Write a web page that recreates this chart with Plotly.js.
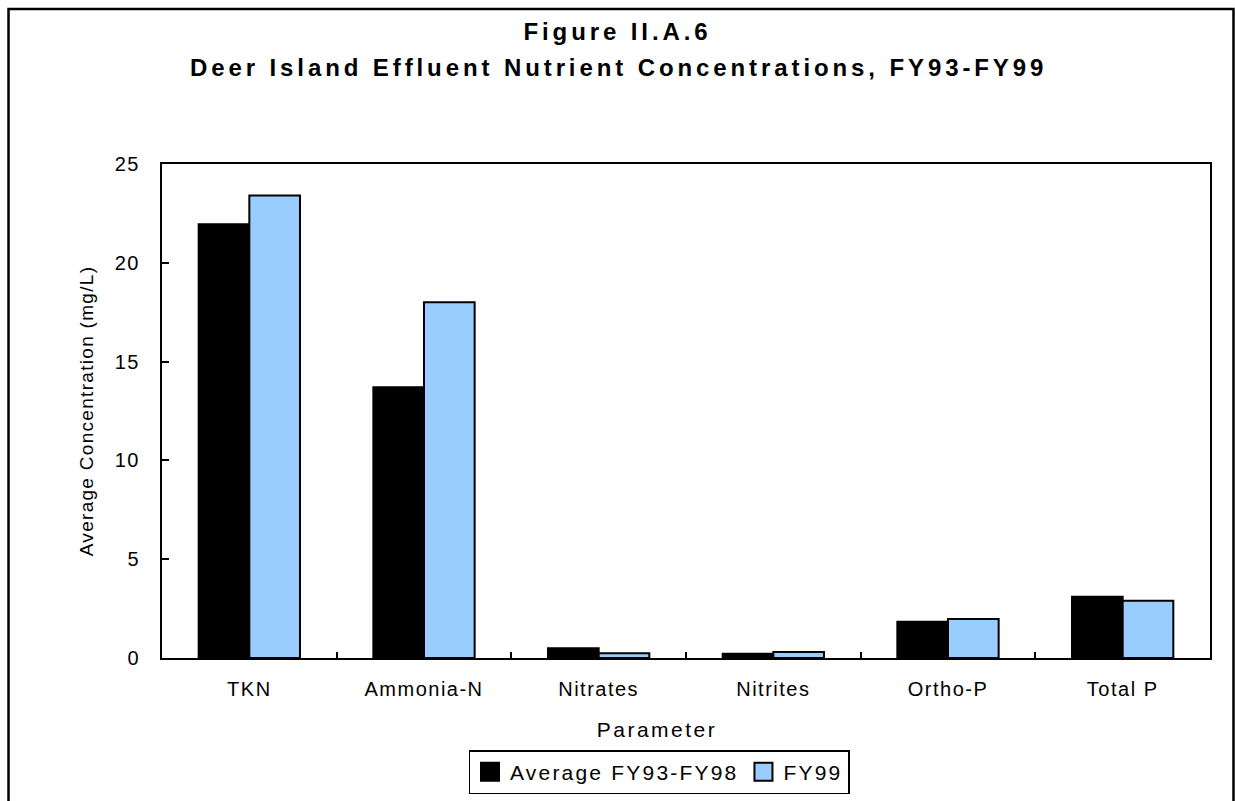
<!DOCTYPE html>
<html>
<head>
<meta charset="utf-8">
<script src="https://cdn.plot.ly/plotly-3.0.1.min.js"></script>
<style>
  html, body { margin: 0; padding: 0; background: #fff; }
  #chart { width: 1235px; height: 801px; }
  .gtitle { letter-spacing: 3.9px; }
  .annotation-text { letter-spacing: 3.9px; }
  .xtick text, .ytick text { letter-spacing: 1.5px; }
  .xtitle { letter-spacing: 2.5px; translate: -29px 0; }
  .ytitle { letter-spacing: 1.3px; }
  .legendtext { letter-spacing: 2.2px; }
</style>
</head>
<body>
<div id="chart"></div>
<script>
const categories = ['TKN', 'Ammonia-N', 'Nitrates', 'Nitrites', 'Ortho-P', 'Total P'];
const avgFY93_98 = [21.95, 13.7, 0.49, 0.22, 1.84, 3.1];
const fy99 = [23.4, 18.0, 0.24, 0.3, 1.97, 2.9];
const seriesNames = ['Average FY93-FY98', 'FY99'];
const yTicks = [0, 5, 10, 15, 20, 25];
const titleLine1 = 'Figure II.A.6';
const titleLine2 = 'Deer Island Effluent Nutrient Concentrations, FY93-FY99';

const FONT = 'Liberation Sans, Arial, sans-serif';
const W = 1235, H = 801;
const M = { l: 162, r: 25, t: 164, b: 143 };
const PW = W - M.l - M.r, PH = H - M.t - M.b;
const px2x = (px) => (px - M.l) / PW;
const px2y = (py) => (H - M.b - py) / PH;

const traces = [
  {
    type: 'bar', name: seriesNames[0], x: categories, y: avgFY93_98,
    marker: { color: '#000000', line: { color: '#000000', width: 2 } },
    hoverinfo: 'x+y'
  },
  {
    type: 'bar', name: seriesNames[1], x: categories, y: fy99,
    marker: { color: '#99CCFF', line: { color: '#000000', width: 2 } },
    hoverinfo: 'x+y'
  }
];

const layout = {
  width: W, height: H,
  paper_bgcolor: '#ffffff', plot_bgcolor: '#ffffff',
  font: { family: FONT, color: '#000000', size: 20 },
  margin: { l: M.l, r: M.r, t: M.t, b: M.b, pad: 0, autoexpand: false },
  barmode: 'group', bargap: 0.42, bargroupgap: 0,
  showlegend: true,
  title: {
    text: '<b>' + titleLine1 + '</b>',
    font: { family: FONT, size: 24, color: '#000000' },
    x: 0.5, xref: 'container', xanchor: 'center',
    y: 1 - 32 / H, yref: 'container', yanchor: 'middle'
  },
  annotations: [
    {
      text: '<b>' + titleLine2 + '</b>',
      xref: 'paper', yref: 'paper', x: px2x(618.5), y: px2y(68),
      xanchor: 'center', yanchor: 'middle', showarrow: false,
      font: { family: FONT, size: 24, color: '#000000' }
    }
  ],
  xaxis: {
    type: 'category',
    showline: true, linecolor: '#000000', linewidth: 2, mirror: true,
    ticks: 'inside', tickson: 'boundaries', ticklen: 6, tickwidth: 2, tickcolor: '#000000',
    tickfont: { family: FONT, size: 20, color: '#000000' },
    ticklabelstandoff: 12,
    showgrid: false, zeroline: false, fixedrange: true,
    title: { text: 'Parameter', font: { family: FONT, size: 21, color: '#000000' }, standoff: 23 }
  },
  yaxis: {
    range: [0, 25], tickvals: yTicks, ticktext: yTicks.map(String),
    showline: true, linecolor: '#000000', linewidth: 2, mirror: true,
    ticks: 'inside', ticklen: 7, tickwidth: 2, tickcolor: '#000000',
    tickfont: { family: FONT, size: 20, color: '#000000' },
    ticklabelstandoff: 16,
    showgrid: false, zeroline: false, fixedrange: true,
    title: { text: 'Average Concentration (mg/L)', font: { family: FONT, size: 19, color: '#000000' }, standoff: 16 }
  },
  legend: {
    orientation: 'h', x: px2x(659), xanchor: 'center', y: px2y(750), yanchor: 'top',
    bordercolor: '#000000', borderwidth: 1.5, bgcolor: '#ffffff',
    font: { family: FONT, size: 21, color: '#000000' },
    itemclick: false, itemdoubleclick: false, traceorder: 'normal'
  },
  shapes: [
    {
      type: 'rect', xref: 'paper', yref: 'paper', layer: 'below',
      x0: px2x(8.5), x1: px2x(1233.5),
      y0: px2y(830), y1: px2y(9),
      line: { color: '#000000', width: 2.5 }, fillcolor: 'rgba(0,0,0,0)'
    }
  ]
};

Plotly.newPlot('chart', traces, layout, { displayModeBar: false, responsive: false }).then(function (gd) {
  // enlarge legend swatches to match the reference's bigger squares
  gd.querySelectorAll('.legend .legendpoints path').forEach(function (p) {
    p.setAttribute('d', 'M9,9H-9V-9H9Z');
  });
});
</script>
</body>
</html>
